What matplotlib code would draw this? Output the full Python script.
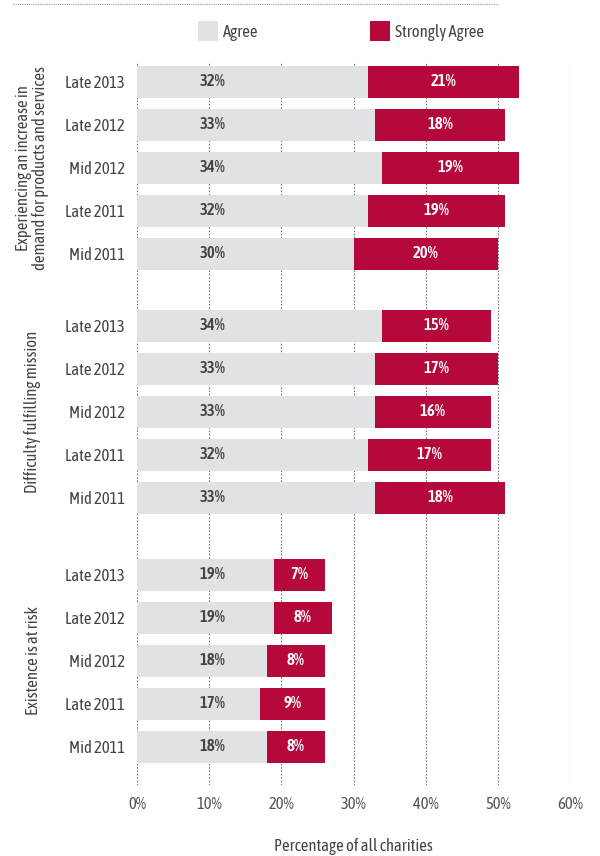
import matplotlib
matplotlib.use("Agg")
import matplotlib.pyplot as plt
from matplotlib.lines import Line2D

plt.rcParams['font.family'] = ['Asap Condensed', 'DejaVu Sans']

groups = ["Experiencing an increase in\ndemand for products and services",
          "Difficulty fulfilling mission",
          "Existence is at risk"]
periods = ["Late 2013", "Late 2012", "Mid 2012", "Late 2011", "Mid 2011"]
agree = [[32, 33, 34, 32, 30],
         [34, 33, 33, 32, 33],
         [19, 19, 18, 17, 18]]
strongly = [[21, 18, 19, 19, 20],
            [15, 17, 16, 17, 18],
            [7, 8, 8, 9, 8]]
xticks = [0, 10, 20, 30, 40, 50, 60]

GREY = "#e1e2e4"
RED = "#b5093b"
TXT = "#444444"
FS = 12

fig = plt.figure(figsize=(6, 8.56), dpi=100)
ax = fig.add_axes([137/600, 1-785/856, 433/600, (785-62)/856])

group_start = [82, 326, 575]
pitch = 43
bh = 32

ys, labels = [], []
for g in range(3):
    y = [group_start[g] + i*pitch for i in range(5)]
    ys += y
    labels += periods
    ba = ax.barh(y, agree[g], height=bh, color=GREY, label="Agree", zorder=2)
    bs = ax.barh(y, strongly[g], left=agree[g], height=bh, color=RED, label="Strongly Agree", zorder=2)
    for yy, a, s in zip(y, agree[g], strongly[g]):
        ax.text(10.5, yy, f"{a}%", ha='center', va='center', fontsize=FS,
                fontweight=600, color=TXT, zorder=3)
        ax.text(a + s/2, yy, f"{s}%", ha='center', va='center', fontsize=FS,
                fontweight=600, color='white', zorder=3)
    if g == 0:
        handles = [ba, bs]
    fig.text(33/600 if g else 32/600, 1 - (y[2])/856, groups[g], rotation=90,
             ha='center', va='center', fontsize=FS, color=TXT, linespacing=1.0)

ax.set_ylim(785, 62)
ax.set_xlim(0, 60)
ax.set_yticks(ys)
ax.set_yticklabels(labels, fontsize=FS, color=TXT)
ax.set_xticks(xticks)
ax.set_xticklabels([f"{t}%" for t in xticks], fontsize=FS, color="#555555")
ax.tick_params(axis='both', length=0)
ax.tick_params(axis='y', pad=8.5)
ax.tick_params(axis='x', pad=8)
for s in ax.spines.values():
    s.set_visible(False)
ax.xaxis.grid(True, linestyle=(0, (1.5, 1.5)), color="#777777", linewidth=0.8, zorder=1)
ax.set_axisbelow(True)
ax.set_xlabel("Percentage of all charities", fontsize=FS, color=TXT, labelpad=18)

leg = fig.legend(handles, ["Agree", "Strongly Agree"], loc='center',
                 bbox_to_anchor=(341/600, 1-31/856), ncol=2, frameon=False,
                 fontsize=FS, handlelength=1.2, handleheight=1.4,
                 handletextpad=0.3, columnspacing=6.7)
for t in leg.get_texts():
    t.set_color(TXT)

fig.add_artist(Line2D([13/600, 498/600], [1-4/856, 1-4/856], transform=fig.transFigure,
                      color="#999999", linewidth=0.8, linestyle=(0, (1, 1))))

fig.savefig("out.png", dpi=100)
